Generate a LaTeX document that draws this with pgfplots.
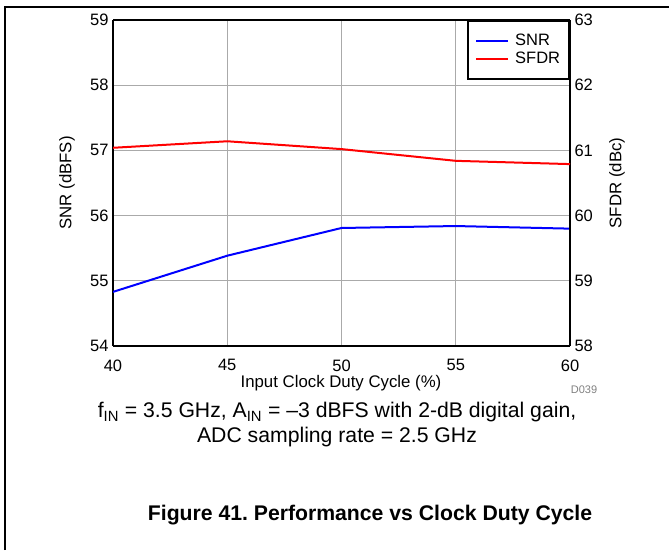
\documentclass[border=0pt]{standalone}
\usepackage{fontspec}
\setmainfont{Liberation Sans}
\usepackage{pgfplots}
\pgfplotsset{compat=1.18}
\definecolor{gridgray}{RGB}{170,170,170}
\definecolor{lblue}{RGB}{0,0,255}
\definecolor{lred}{RGB}{255,0,0}
\newcommand{\fs}{\fontsize{16.5}{19}\selectfont}
\frenchspacing
\begin{document}
\begin{tikzpicture}[x=1pt,y=1pt]
\useasboundingbox (0,0) rectangle (669,550);
\draw[line width=1.5pt] (5,0) -- (5,543) -- (669,543);
\pgfplotsset{
  base/.style={
    at={(113pt,204pt)}, anchor=south west,
    scale only axis, width=457pt, height=326pt,
    xmin=40, xmax=60, xtick={40,45,50,55,60},
    major tick length=0pt,
    tick label style={font=\fs},
    /pgf/number format/assume math mode=true,
    axis line style={line width=2pt},
  }
}
\begin{axis}[base,
  ymin=54, ymax=59, ytick={54,55,56,57,58,59},
  grid=major, grid style={gridgray, line width=0.8pt},
  axis y line*=left, axis x line*=bottom,
  xticklabel style={yshift=-10pt},
  yticklabel style={xshift=-1pt},
]
\addplot[lblue, line width=2pt] coordinates {(40,54.83) (45,55.385) (50,55.81) (55,55.84) (60,55.80)};
\end{axis}
\begin{axis}[base,
  ymin=58, ymax=63, ytick={58,59,60,61,62,63},
  axis y line*=right, axis x line*=top,
  xticklabels={},
  yticklabel style={xshift=1pt},
  legend style={at={(1,1)}, anchor=north east, draw=black, line width=1.8pt,
    font=\fs, inner xsep=7pt, inner ysep=12pt, row sep=2pt,
    nodes={inner ysep=1.5pt},
    /tikz/every odd column/.append style={column sep=4pt},
    cells={anchor=west}},
  legend cell align=left,
  legend image code/.code={\draw[#1] (0pt,0pt) -- (32pt,0pt);},
]
\addlegendimage{lblue, line width=2pt}
\addlegendentry{SNR}
\addplot[lred, line width=2pt] coordinates {(40,61.04) (45,61.14) (50,61.02) (55,60.84) (60,60.79)};
\addlegendentry{SFDR}
\end{axis}
\node[font=\fontsize{16.8}{19}\selectfont, rotate=90] at (67,367) {SNR (dBFS)};
\node[font=\fontsize{16.8}{19}\selectfont, rotate=90] at (617,367) {SFDR (dBc)};
\node[font=\fontsize{16.8}{19}\selectfont] at (341,167) {Input Clock Duty Cycle (\%)};
\node[font=\fontsize{11}{13}\selectfont, text=gray] at (584,160) {D039};
\node[font=\fontsize{21.2}{25}\selectfont, align=center] at (337,125)
  {f\textsubscript{IN} = 3.5 GHz, A\textsubscript{IN} = –3 dBFS with 2-dB digital gain,\\ADC sampling rate = 2.5 GHz};
\node[font=\bfseries\fontsize{21.2}{25}\selectfont] at (370,35) {Figure 41. Performance vs Clock Duty Cycle};
\end{tikzpicture}
\end{document}
